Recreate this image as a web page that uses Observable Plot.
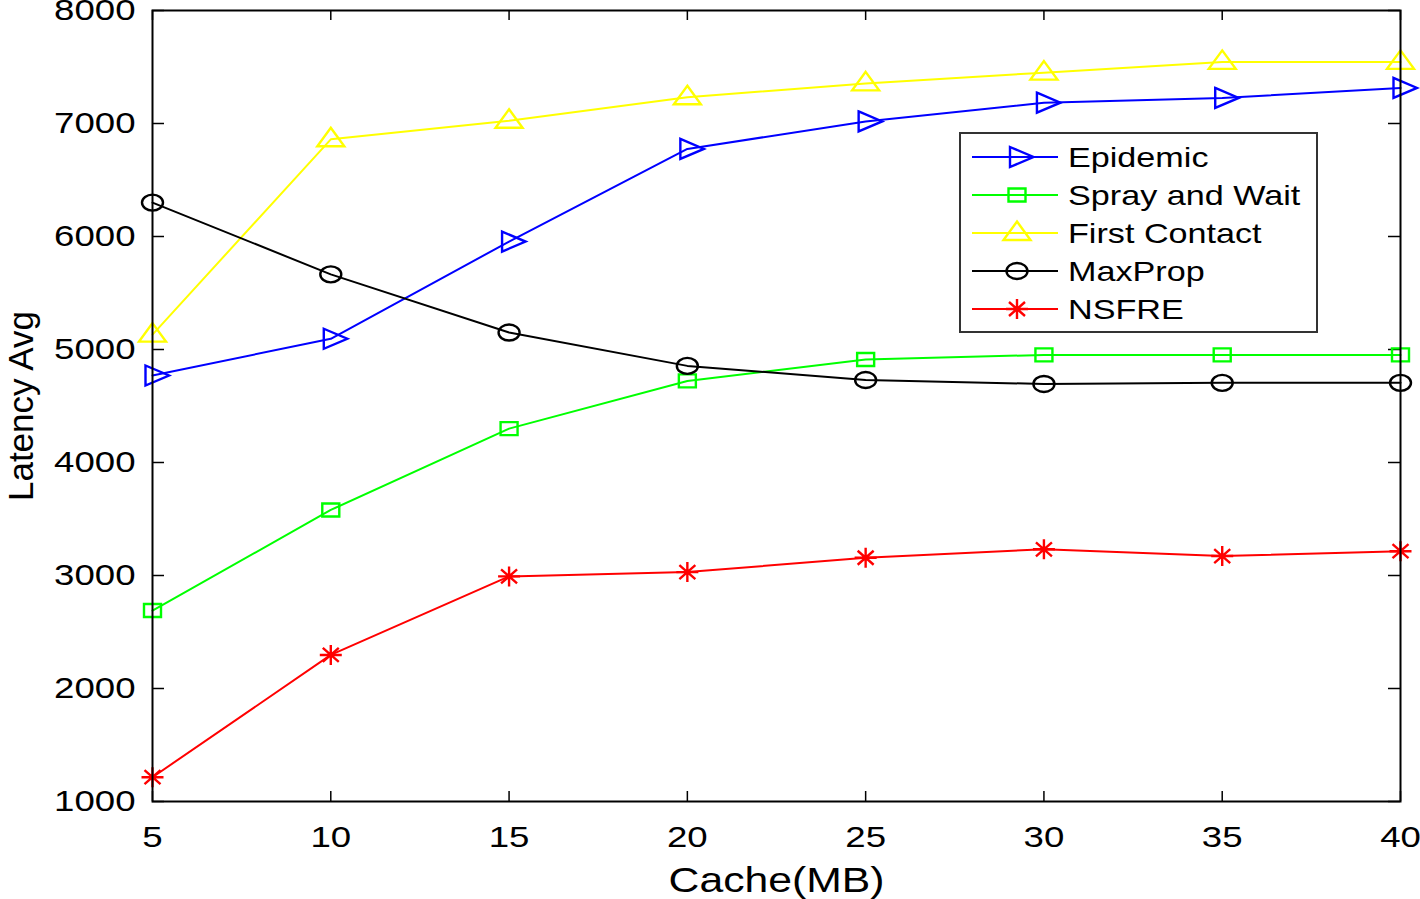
<!DOCTYPE html>
<html><head><meta charset="utf-8">
<script src="https://cdn.jsdelivr.net/npm/d3@7"></script>
<script src="https://cdn.jsdelivr.net/npm/@observablehq/plot@0.6"></script>
<style>html,body{margin:0;padding:0;background:#fff;} #chart{width:1420px;height:899px;}</style>
</head><body><div id="chart"></div>
<script>
// ---- data ----
const cache = [5, 10, 15, 20, 25, 30, 35, 40];
const epidemic = [4770, 5095, 5955, 6775, 7018, 7184, 7226, 7315];
const sprayAndWait = [2690, 3580, 4300, 4722, 4912, 4952, 4952, 4952];
const firstContact = [5132, 6860, 7025, 7232, 7355, 7450, 7545, 7545];
const maxProp = [6300, 5665, 5150, 4855, 4730, 4695, 4705, 4705];
const nsfre = [1215, 2297, 2992, 3030, 3157, 3232, 3172, 3215];
const seriesNames = ["Epidemic", "Spray and Wait", "First Contact", "MaxProp", "NSFRE"];
const seriesColors = ["#0000ff", "#00ff00", "#ffff00", "#000000", "#ff0000"];
const xTicks = [5, 10, 15, 20, 25, 30, 35, 40];
const yTicks = [1000, 2000, 3000, 4000, 5000, 6000, 7000, 8000];
const xLabel = "Cache(MB)";
const yLabel = "Latency Avg";

// ---- marker shapes ----
function sym(fn) { return {draw(ctx) { fn(ctx); }}; }
const triRight = sym(c => { c.moveTo(-7, -10); c.lineTo(16.5, 0); c.lineTo(-7, 10); c.closePath(); });
const square = sym(c => { c.rect(-8.5, -6.5, 17, 13); });
const triUp = sym(c => { c.moveTo(0, -11.5); c.lineTo(13.5, 7); c.lineTo(-13.5, 7); c.closePath(); });
const ellipse = sym(c => {
  const rx = 10.5, ry = 8, k = 0.5523;
  c.moveTo(rx, 0);
  c.bezierCurveTo(rx, ry * k, rx * k, ry, 0, ry);
  c.bezierCurveTo(-rx * k, ry, -rx, ry * k, -rx, 0);
  c.bezierCurveTo(-rx, -ry * k, -rx * k, -ry, 0, -ry);
  c.bezierCurveTo(rx * k, -ry, rx, -ry * k, rx, 0);
  c.closePath();
});
const asterisk = sym(c => {
  c.moveTo(0, -10); c.lineTo(0, 10);
  c.moveTo(-11, 0); c.lineTo(11, 0);
  c.moveTo(-8, -7); c.lineTo(8, 7);
  c.moveTo(-8, 7); c.lineTo(8, -7);
});
const seriesSymbols = [triRight, square, triUp, ellipse, asterisk];
const seriesValues = [epidemic, sprayAndWait, firstContact, maxProp, nsfre];

const rows = seriesValues.map((vals, i) => vals.map((v, j) => ({series: seriesNames[i], x: cache[j], y: v})));

const W = 1420, H = 899;
const mL = 152, mR = 20, mT = 10, mB = 98;
const pw = W - mL - mR, ph = H - mT - mB;

const marks = [];
rows.forEach((r, i) => {
  marks.push(Plot.line(r, {x: "x", y: "y", stroke: seriesColors[i], strokeWidth: 2}));
  marks.push(Plot.dot(r, {x: "x", y: "y", symbol: seriesSymbols[i], r: 10, stroke: seriesColors[i], fill: "none", strokeWidth: 2.4}));
});

const chart = Plot.plot({
  width: W, height: H,
  marginLeft: mL, marginRight: mR, marginTop: mT, marginBottom: mB,
  style: {fontFamily: "'Liberation Sans', Arial, sans-serif", background: "#fff", color: "#000"},
  x: {domain: [5, 40], axis: null},
  y: {domain: [1000, 8000], axis: null},
  marks: [
    // inward ticks on all four sides
    Plot.tickX(xTicks, {x: d => d, insetTop: ph - 10, stroke: "#000", strokeWidth: 1.5}),
    Plot.tickX(xTicks, {x: d => d, insetBottom: ph - 10, stroke: "#000", strokeWidth: 1.5}),
    Plot.tickY(yTicks, {y: d => d, insetRight: pw - 12, stroke: "#000", strokeWidth: 1.5}),
    Plot.tickY(yTicks, {y: d => d, insetLeft: pw - 12, stroke: "#000", strokeWidth: 1.5}),
    Plot.axisX({ticks: xTicks, tickSize: 0, tickPadding: 24, fontSize: 30, tickFormat: d => String(d), label: null}),
    Plot.axisY({ticks: yTicks, tickSize: 0, tickPadding: 17, fontSize: 30, tickFormat: d => String(d), label: null}),
    ...marks,
    Plot.frame({stroke: "#000", strokeWidth: 2}),
    Plot.text([xLabel], {frameAnchor: "bottom", dy: 79, fontSize: 35, lineAnchor: "middle", textAnchor: "middle", text: d => d, fill: "#000"}),
    Plot.text([yLabel], {frameAnchor: "left", dx: -131, fontSize: 35, rotate: -90, lineAnchor: "middle", textAnchor: "middle", text: d => d, fill: "#000"})
  ]
});
document.getElementById("chart").appendChild(chart);

// ---- legend ----
const svg = d3.select(chart);
const lg = svg.append("g").attr("class", "legend").attr("text-anchor", "start");
lg.append("rect").attr("x", 960).attr("y", 133).attr("width", 357).attr("height", 199)
  .attr("fill", "#fff").attr("stroke", "#333").attr("stroke-width", 2);
seriesNames.forEach((name, i) => {
  const y = 157 + i * 38;
  lg.append("line").attr("x1", 972).attr("x2", 1058).attr("y1", y).attr("y2", y)
    .attr("stroke", seriesColors[i]).attr("stroke-width", 2);
  const p = d3.path();
  seriesSymbols[i].draw(p);
  lg.append("path").attr("d", p.toString()).attr("transform", `translate(1017,${y})`)
    .attr("fill", "none").attr("stroke", seriesColors[i]).attr("stroke-width", 2.4);
  lg.append("text").attr("x", 1068).attr("y", y + 10).attr("font-size", 28).attr("fill", "#000")
    .attr("text-anchor", "start").text(name);
});

// ---- horizontal widening of (unrotated) text to match reference proportions ----
const stretch = 1.22;
chart.querySelectorAll("text").forEach(t => {
  if (t.textContent === yLabel) return;
  const len = t.getComputedTextLength();
  if (len > 0) {
    t.setAttribute("textLength", (len * stretch).toFixed(1));
    t.setAttribute("lengthAdjust", "spacingAndGlyphs");
  }
});
</script>
</body></html>
